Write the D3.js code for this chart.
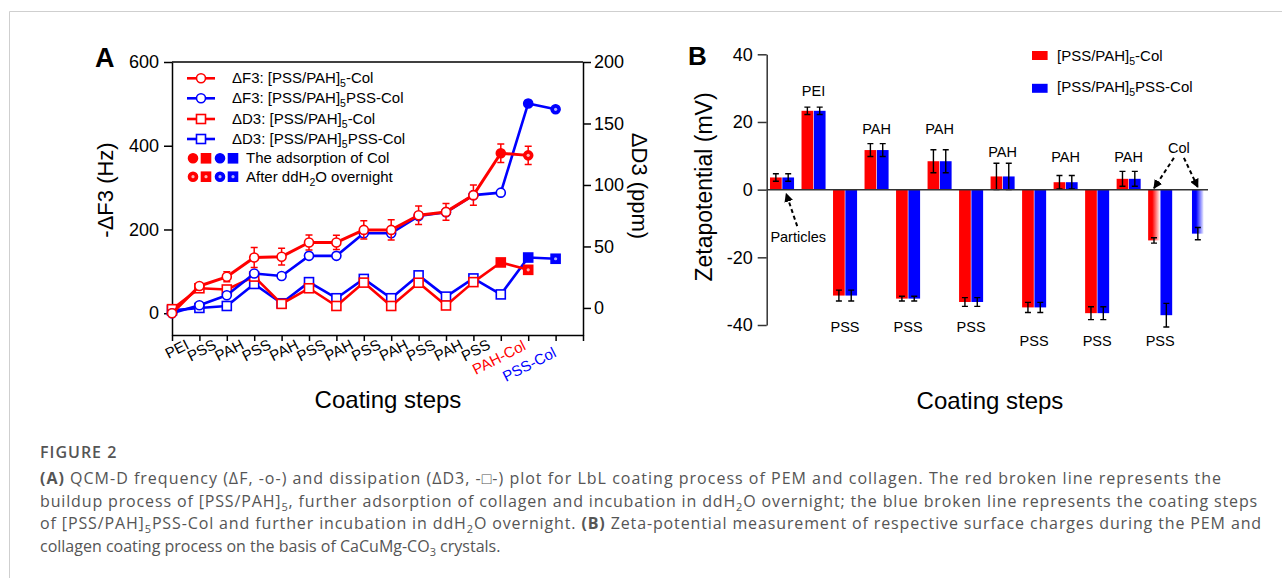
<!DOCTYPE html>
<html lang="en">
<head>
<meta charset="UTF-8">
<title>Figure 2 - QCM-D and zeta potential</title>
<style>
    body { margin: 0; background: #fff; }
    svg { display: block; font-family: "Liberation Sans", Arial, sans-serif; }
    .axis path, .axis line { stroke: #000; stroke-width: 1.5px; }
    .axis text { font-size: 18px; fill: #000; font-family: "Liberation Sans", Arial, sans-serif; }
    .axisB path, .axisB line { stroke: #333; }
    .caption { font-family: "Open Sans", sans-serif; font-size: 16px; fill: #555; }
</style>
</head>
<body>
<svg id="fig" width="1282" height="578"></svg>
<script src="https://cdn.jsdelivr.net/npm/d3@7"></script>
<script>
// ---------- panel A data (QCM-D) ----------
const stepLabels = ["PEI", "PSS", "PAH", "PSS", "PAH", "PSS", "PAH", "PSS", "PAH", "PSS", "PAH", "PSS", "PAH-Col", "PSS-Col"];
const stepColors = ["#000", "#000", "#000", "#000", "#000", "#000", "#000", "#000", "#000", "#000", "#000", "#000", "#ff0000", "#0000ff"];
const fTicks = [0, 200, 400, 600];
const dTicks = [0, 50, 100, 150, 200];

// -dF3 (Hz); index of the collagen point, later points are "after ddH2O"
const f3Red = [0, 65, 87, 133, 135, 169, 169, 199, 199, 234, 242, 282, 382, 377];
const f3RedErr = [0, 7, 12, 24, 20, 18, 17, 22, 24, 22, 20, 24, 22, 22];
const f3Blue = [0, 19, 43, 95, 89, 137, 137, 191, 191, 232, 241, 282, 288, 501, 487];
const f3BlueErr = [0, 2, 3, 4, 3, 4, 4, 5, 5, 4, 4, 4, 3, 7, 3];
// dD3 (ppm)
const d3Red = [-1, 16, 15, 25.5, 3.3, 16, 1.6, 20.6, 1.6, 20.5, 2, 21, 37, 31];
const d3Blue = [-2, 0, 1.6, 19.5, 3.8, 21, 7.9, 23.6, 7.9, 26.5, 9.2, 24, 11, 41, 40];
const colIndexRed = 12;
const colIndexBlue = 13;

// ---------- panel B data (zeta potential, mV) ----------
const zetaGroups = ["Particles", "PEI", "PSS", "PAH", "PSS", "PAH", "PSS", "PAH", "PSS", "PAH", "PSS", "PAH", "PSS", "Col"];
const zetaRed = [3.6, 23.3, -31.3, 11.7, -32.2, 8.4, -33.2, 3.9, -34.8, 2.2, -36.5, 3.2, -15, null];
const zetaRedErr = [1.1, 1.1, 1.6, 1.9, 0.7, 3.4, 1.3, 3.9, 1.5, 2, 1.9, 2.2, 0.8, null];
const zetaBlue = [3.6, 23.3, -31.3, 11.7, -32.2, 8.4, -33.2, 3.9, -34.8, 2.2, -36.5, 3.2, -37.1, -13];
const zetaBlueErr = [1.1, 1.1, 1.6, 1.9, 0.7, 3.4, 1.3, 3.9, 1.5, 2, 1.9, 2.2, 3.5, 1.8];
const zetaTicks = [-40, -20, 0, 20, 40];
// layer names written above / below the bars (group index, text, height in mV)
const layerTags = [
    [1, "PEI", 27.8], [3, "PAH", 16.5], [5, "PAH", 16.5], [7, "PAH", 9.7], [9, "PAH", 8.1], [11, "PAH", 8.1],
    [2, "PSS", -42], [4, "PSS", -42], [6, "PSS", -42], [8, "PSS", -46.1], [10, "PSS", -46.1], [12, "PSS", -46.1]
];
const seriesNames = ["[PSS/PAH]_5-Col", "[PSS/PAH]_5PSS-Col"];

const captionLines = [
    "**(A)** QCM-D frequency (ΔF, -o-) and dissipation (ΔD3, -□-) plot for LbL coating process of PEM and collagen. The red broken line represents the",
    "buildup process of [PSS/PAH]_5, further adsorption of collagen and incubation in ddH_2O overnight; the blue broken line represents the coating steps",
    "of [PSS/PAH]_5PSS-Col and further incubation in ddH_2O overnight. **(B)** Zeta-potential measurement of respective surface charges during the PEM and",
    "collagen coating process on the basis of CaCuMg-CO_3 crystals."
];
const captionEnds = [1222, 1258, 1262, null];   // justified lines end here

const RED = "#ff0000", BLUE = "#0000ff";
const svg = d3.select("#fig");

// write "a_5b" as subscript and "**x**" as bold
function rich(sel, str, subSize) {
    let back = 0;
    str.split(/(_\d|\*\*[^*]+\*\*)/).filter(s => s.length).forEach(s => {
        let t;
        if (s[0] === "_") {
            sel.append("tspan").attr("dy", 4).attr("font-size", subSize).text(s.slice(1));
            back = -4;
            return;
        } else if (s.startsWith("**")) {
            t = sel.append("tspan").attr("font-weight", "bold").text(s.slice(2, -2));
        } else {
            t = sel.append("tspan").text(s);
        }
        if (back) { t.attr("dy", back); back = 0; }
    });
    return sel;
}

svg.append("path").attr("d", "M9.5,578V11.5H1282").attr("fill", "none").attr("stroke", "#cfcfcf");

// ================= panel A =================
const gA = svg.append("g");
const xA = d3.scaleLinear().domain([0, 15]).range([172, 583]);
const yF = d3.scaleLinear().domain([-52, 600]).range([335, 62]);
const yD = d3.scaleLinear().domain([-22, 200]).range([335, 62]);

gA.append("g").attr("class", "axis").attr("transform", "translate(172,0)")
    .call(d3.axisLeft(yF).tickValues(fTicks).tickSize(8).tickSizeOuter(0).tickPadding(5));
gA.append("g").attr("class", "axis").attr("transform", "translate(583,0)")
    .call(d3.axisRight(yD).tickValues(dTicks).tickSize(8).tickSizeOuter(0).tickPadding(3));
gA.append("g").attr("class", "axis").attr("transform", "translate(0,335)")
    .call(d3.axisBottom(xA).tickValues(d3.range(16)).tickSize(6).tickSizeOuter(0).tickFormat(() => ""));
gA.append("line").attr("x1", 172).attr("x2", 583).attr("y1", 62).attr("y2", 62)
    .attr("stroke", "#000").attr("stroke-width", 1.5);

// rotated step labels
const labelShift = (i) => i === 12 ? [26, 349] : i === 13 ? [29, 356] : [18, 348];
gA.selectAll(".step").data(stepLabels).join("text")
    .attr("class", "step")
    .attr("transform", (d, i) => `translate(${xA(i) + labelShift(i)[0]},${labelShift(i)[1]}) rotate(-27)`)
    .attr("text-anchor", "end").attr("font-size", 15)
    .attr("fill", (d, i) => stepColors[i])
    .text(d => d);

gA.append("text").attr("x", 388).attr("y", 408).attr("text-anchor", "middle")
    .attr("font-size", 24).text("Coating steps");
gA.append("text").attr("transform", "translate(113,190) rotate(-90)").attr("text-anchor", "middle")
    .attr("font-size", 22).text("-ΔF3 (Hz)");
gA.append("text").attr("transform", "translate(632,186) rotate(90)").attr("text-anchor", "middle")
    .attr("font-size", 22).text("ΔD3 (ppm)");
gA.append("text").attr("x", 95).attr("y", 67).attr("font-size", 27).attr("font-weight", "bold").text("A");

function marker(g, shape, kind, color, x, y) {
    const fill = kind === "open" ? "#fff" : color;
    if (shape === "circle") {
        g.append("circle").attr("cx", x).attr("cy", y).attr("r", 4.5)
            .attr("fill", fill).attr("stroke", color).attr("stroke-width", 1.6);
    } else {
        g.append("rect").attr("x", x - 4.5).attr("y", y - 4.5).attr("width", 9).attr("height", 9)
            .attr("fill", fill).attr("stroke", color).attr("stroke-width", 1.6);
    }
    if (kind === "after") {
        g.append("circle").attr("cx", x).attr("cy", y).attr("r", 1.6)
            .attr("fill", color === RED ? "#ffb3b3" : "#b3b3ff");
    }
}

function drawSeries(values, errs, yScale, color, shape, colIdx, width) {
    const g = gA.append("g");
    const line = d3.line().x((d, i) => xA(i)).y(d => yScale(d));
    g.append("path").datum(values).attr("d", line)
        .attr("fill", "none").attr("stroke", color).attr("stroke-width", width).attr("stroke-linejoin", "round");
    if (errs) {
        values.forEach((v, i) => {
            if (!errs[i]) return;
            const x = xA(i), y0 = yScale(v - errs[i]), y1 = yScale(v + errs[i]);
            g.append("path").attr("d", `M${x},${y0}V${y1}M${x - 3.5},${y0}H${x + 3.5}M${x - 3.5},${y1}H${x + 3.5}`)
                .attr("stroke", color).attr("stroke-width", 1.5).attr("fill", "none");
        });
    }
    values.forEach((v, i) => {
        const kind = i < colIdx ? "open" : i === colIdx ? "filled" : "after";
        marker(g, shape, kind, color, xA(i), yScale(v));
    });
}

drawSeries(d3Blue, null, yD, BLUE, "square", colIndexBlue, 2.6);
drawSeries(d3Red, null, yD, RED, "square", colIndexRed, 2.6);
drawSeries(f3Blue, f3BlueErr, yF, BLUE, "circle", colIndexBlue, 2.6);
drawSeries(f3Red, f3RedErr, yF, RED, "circle", colIndexRed, 3);

// legend A
const legA = gA.append("g");
const legRows = [
    ["ΔF3: " + seriesNames[0], RED, "circle"],
    ["ΔF3: " + seriesNames[1], BLUE, "circle"],
    ["ΔD3: " + seriesNames[0], RED, "square"],
    ["ΔD3: " + seriesNames[1], BLUE, "square"]
];
const legY = [78.3, 98.3, 119, 139, 158.3, 176.7];
legRows.forEach((r, i) => {
    legA.append("line").attr("x1", 187).attr("x2", 215).attr("y1", legY[i]).attr("y2", legY[i])
        .attr("stroke", r[1]).attr("stroke-width", 2.6);
    marker(legA, r[2], "open", r[1], 201, legY[i]);
    rich(legA.append("text").attr("x", 232).attr("y", legY[i] + 5).attr("font-size", 15), r[0], 10.5);
});
["filled", "after"].forEach((kind, j) => {
    const y = legY[4 + j];
    marker(legA, "circle", kind, RED, 193, y);
    marker(legA, "square", kind, RED, 206, y);
    marker(legA, "circle", kind, BLUE, 220, y);
    marker(legA, "square", kind, BLUE, 233, y);
    rich(legA.append("text").attr("x", 246).attr("y", y + 5).attr("font-size", 15),
        j === 0 ? "The adsorption of Col" : "After ddH_2O overnight", 10.5);
});

// ================= panel B =================
const gB = svg.append("g");
const xB = d3.scaleBand().domain(d3.range(zetaGroups.length)).range([766.7, 1207])
    .paddingInner(0.237).paddingOuter(0.105);
const xSub = d3.scaleBand().domain([0, 1]).range([0, xB.bandwidth()]).paddingInner(0.05);
const yZ = d3.scaleLinear().domain([-40, 40]).range([325, 54.3]);

const defs = svg.append("defs");
[[RED, "fadeRed"], [BLUE, "fadeBlue"]].forEach(([c, id]) => {
    const lg = defs.append("linearGradient").attr("id", id).attr("x1", 0).attr("x2", 1).attr("y1", 0).attr("y2", 0);
    lg.append("stop").attr("offset", "0%").attr("stop-color", c);
    lg.append("stop").attr("offset", "35%").attr("stop-color", c);
    lg.append("stop").attr("offset", "100%").attr("stop-color", c).attr("stop-opacity", 0.05);
});
const arrow = defs.append("marker").attr("id", "arrowHead").attr("viewBox", "0 0 10 10")
    .attr("refX", 9).attr("refY", 5).attr("markerWidth", 4.5).attr("markerHeight", 4.5).attr("orient", "auto");
arrow.append("path").attr("d", "M0,0L10,5L0,10Z").attr("fill", "#000");

[[zetaRed, RED, "fadeRed", 12], [zetaBlue, BLUE, "fadeBlue", 13]].forEach(([vals, c, grad, colG], s) => {
    vals.forEach((v, g) => {
        if (v === null) return;
        gB.append("rect").attr("x", xB(g) + xSub(s)).attr("width", xSub.bandwidth())
            .attr("y", yZ(Math.max(v, 0))).attr("height", Math.abs(yZ(v) - yZ(0)))
            .attr("fill", g === colG ? `url(#${grad})` : c);
    });
});
[[zetaRed, zetaRedErr], [zetaBlue, zetaBlueErr]].forEach(([vals, errs], s) => {
    vals.forEach((v, g) => {
        if (v === null) return;
        const cx = xB(g) + xSub(s) + xSub.bandwidth() / 2;
        const y0 = yZ(v - errs[g]), y1 = yZ(v + errs[g]);
        gB.append("path").attr("d", `M${cx},${y0}V${y1}M${cx - 3},${y0}H${cx + 3}M${cx - 3},${y1}H${cx + 3}`)
            .attr("stroke", "#000").attr("stroke-width", 1.4).attr("fill", "none");
    });
});

gB.append("g").attr("class", "axis axisB").attr("transform", "translate(766.7,0)")
    .call(d3.axisLeft(yZ).tickValues(zetaTicks).tickSize(9).tickSizeOuter(0).tickPadding(5).tickFormat(d => String(d)));
gB.append("line").attr("x1", 766.7).attr("x2", 1208).attr("y1", yZ(0)).attr("y2", yZ(0))
    .attr("stroke", "#333").attr("stroke-width", 1.5);

const groupMid = g => xB(g) + xB.bandwidth() / 2;
layerTags.forEach(([g, t, y]) => {
    gB.append("text").attr("x", groupMid(g)).attr("y", yZ(y)).attr("text-anchor", "middle")
        .attr("font-size", 14.5).text(t);
});

// particles and collagen annotations
const subMid = (g, s) => xB(g) + xSub(s) + xSub.bandwidth() / 2;
gB.append("line").attr("x1", subMid(0, 1) + 9).attr("y1", yZ(-10.8)).attr("x2", subMid(0, 1) - 2).attr("y2", yZ(-1.2))
    .attr("stroke", "#000").attr("stroke-width", 2).attr("stroke-dasharray", "4,3").attr("marker-end", "url(#arrowHead)");
gB.append("text").attr("x", subMid(0, 1) + 10).attr("y", yZ(-15.4)).attr("text-anchor", "middle")
    .attr("font-size", 14.5).text("Particles");
const colX = (subMid(12, 0) + subMid(13, 1)) / 2 + 3;
gB.append("text").attr("x", colX).attr("y", yZ(10.9)).attr("text-anchor", "middle")
    .attr("font-size", 14.5).text("Col");
gB.append("line").attr("x1", colX - 5).attr("y1", yZ(9.4)).attr("x2", subMid(12, 0)).attr("y2", yZ(0.4))
    .attr("stroke", "#000").attr("stroke-width", 2).attr("stroke-dasharray", "4,3").attr("marker-end", "url(#arrowHead)");
gB.append("line").attr("x1", colX + 5).attr("y1", yZ(9.4)).attr("x2", subMid(13, 1)).attr("y2", yZ(0.7))
    .attr("stroke", "#000").attr("stroke-width", 2).attr("stroke-dasharray", "4,3").attr("marker-end", "url(#arrowHead)");

// legend B
[[RED, 55.5, 61], [BLUE, 88.3, 91.5]].forEach(([c, ry, ty], i) => {
    gB.append("rect").attr("x", 1032).attr("y", ry - 4.5).attr("width", 15.6).attr("height", 9).attr("fill", c);
    rich(gB.append("text").attr("x", 1057).attr("y", ty).attr("font-size", 15), seriesNames[i], 10.5);
});

gB.append("text").attr("x", 990).attr("y", 409).attr("text-anchor", "middle")
    .attr("font-size", 24).text("Coating steps");
gB.append("text").attr("transform", "translate(712,187) rotate(-90)").attr("text-anchor", "middle")
    .attr("font-size", 23).text("Zetapotential (mV)");
gB.append("text").attr("x", 688).attr("y", 65).attr("font-size", 26).attr("font-weight", "bold").text("B");

// ================= caption =================
const capX = 40;
svg.append("text").attr("class", "caption").attr("x", capX).attr("y", 458)
    .attr("font-weight", 600).attr("letter-spacing", 1).attr("font-size", 19).text("FIGURE 2");
const capY = [484, 507, 529, 552];
captionLines.forEach((line, i) => {
    const t = rich(svg.append("text").attr("class", "caption").attr("x", capX).attr("y", capY[i]), line, 11);
    if (captionEnds[i]) {
        // justify the line by spreading the letters a little
        const natural = t.node().getComputedTextLength();
        const chars = line.replace(/\*\*|_/g, "").length;
        t.attr("letter-spacing", ((captionEnds[i] - capX) - natural) / chars);
    }
});
</script>
</body>
</html>
